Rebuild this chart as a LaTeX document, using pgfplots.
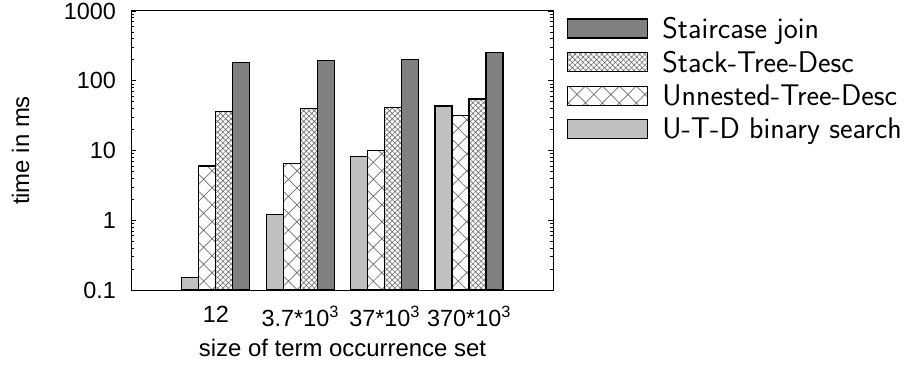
\documentclass[border=0pt]{standalone}
\usepackage{pgfplots}
\pgfplotsset{compat=1.18}
\usepackage{fontspec}
\setmainfont{Liberation Sans}
\usetikzlibrary{patterns.meta}
\definecolor{lightbar}{RGB}{192,192,192}
\definecolor{darkbar}{RGB}{128,128,128}
\definecolor{hatchc}{RGB}{110,110,110}
\pgfplotsset{
  mylegend/.style={legend image code/.code={\draw[##1] (0bp,-9.5bp) rectangle (80bp,9.5bp);}},
}
\begin{document}
\begin{tikzpicture}
\path[use as bounding box] (-131.5bp,-76bp) rectangle (779.5bp,290bp);
\begin{axis}[
  at={(0,0)}, anchor=south west,
  scale only axis, width=422bp, height=279bp,
  ymode=log, ymin=0.1, ymax=1000, log origin y=infty,
  xmin=-1, xmax=4,
  ybar=0pt, bar width=17bp,
  xtick={0,1,2,3},
  xticklabels={12, 3.7*10\textsuperscript{3}, 37*10\textsuperscript{3}, 370*10\textsuperscript{3}},
  ytick={0.1,1,10,100,1000},
  yticklabels={0.1,1,10,100,1000},
  tick align=inside,
  major tick length=5bp, minor tick length=3bp,
  x tick style={draw=none},
  axis line style={line width=1bp},
  every tick/.style={black, line width=0.6bp},
  tick label style={font=\fontsize{23.5}{25}\selectfont},
  yticklabel style={xshift=-12bp},
  xticklabel style={yshift=-13bp},
  label style={font=\fontsize{24}{26}\selectfont},
  xlabel={size of term occurrence set},
  ylabel={time in ms},
  xlabel style={at={(rel axis cs:0.5,0)}, anchor=center, yshift=-58bp},
  ylabel style={at={(axis description cs:-0.263,0.5)}, anchor=center},
  legend style={at={(rel axis cs:1,1)}, anchor=north west, xshift=13.5bp, yshift=-5bp,
    draw=none, fill=none, font=\sffamily\fontsize{30}{32}\selectfont,
    row sep=9bp, inner sep=0pt,
    nodes={inner sep=1bp},
    /tikz/every odd column/.append style={column sep=13bp}},
  legend cell align=left,
  reverse legend,
]
\addplot[mylegend, draw=black, line width=1.2bp, fill=lightbar]
  coordinates {(0,0.152) (1,1.22) (2,8.3) (3,43.5)};
\addlegendentry{U-T-D binary search}
\addplot[mylegend, draw=black, line width=1.2bp, fill=white,
  postaction={pattern={Hatch[angle=45,distance=12bp,line width=0.7bp]}, pattern color=hatchc}]
  coordinates {(0,6.0) (1,6.5) (2,10.1) (3,31.5)};
\addlegendentry{Unnested-Tree-Desc}
\addplot[mylegend, draw=black, line width=1.2bp, fill=white,
  postaction={pattern={Hatch[angle=45,distance=3.8bp,line width=0.6bp]}, pattern color=hatchc}]
  coordinates {(0,36) (1,40) (2,41.6) (3,54.7)};
\addlegendentry{Stack-Tree-Desc}
\addplot[mylegend, draw=black, line width=1.2bp, fill=darkbar]
  coordinates {(0,181) (1,196) (2,203) (3,256)};
\addlegendentry{Staircase join}
\end{axis}
\end{tikzpicture}
\end{document}
